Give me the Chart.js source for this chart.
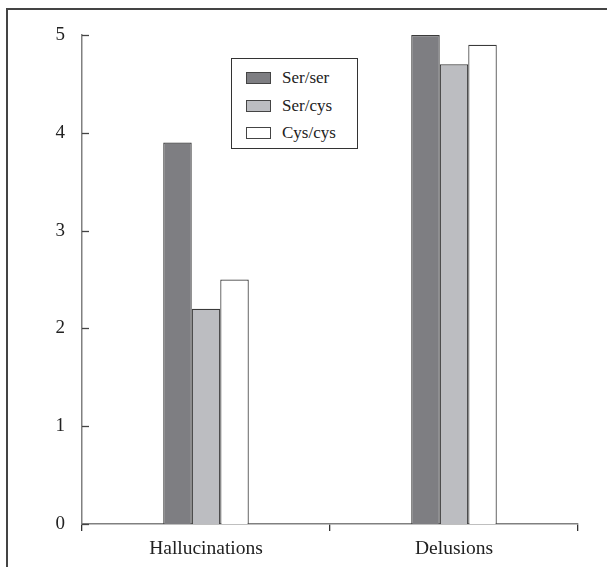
<!DOCTYPE html>
<html>
<head>
<meta charset="utf-8">
<script src="https://cdn.jsdelivr.net/npm/chart.js@4"></script>
<style>
	body { margin: 0; background: #fff; }
	#wrap { position: relative; width: 607px; height: 567px; overflow: hidden; }
	#frame-top { position: absolute; left: 6px; top: 8px; width: 610px; height: 0; border-top: 2px solid #444; }
	#frame-left { position: absolute; left: 6px; top: 8px; width: 0; height: 570px; border-left: 2px solid #444; }
	#legend {
		position: absolute; left: 231px; top: 58px; width: 127px; height: 91px;
		border: 1px solid #333; box-sizing: border-box; background: #fff;
		font-family: "Liberation Serif", "DejaVu Serif", serif; font-size: 17px; color: #222;
	}
	.row { position: absolute; left: 14px; height: 18px; line-height: 18px; white-space: nowrap; }
	.sw { display: inline-block; width: 23px; height: 10px; border: 1px solid #444; vertical-align: middle; margin-right: 11px; position: relative; top: -1px; }
</style>
</head>
<body>
<div id="wrap">
	<canvas id="chart" width="607" height="567"></canvas>
	<div id="frame-top"></div>
	<div id="frame-left"></div>
	<div id="legend"></div>
</div>
<script>
/* Symptom scores by genotype -- grouped bar chart */

const CATEGORIES = ["Hallucinations", "Delusions"];
const SERIES_NAMES = ["Ser/ser", "Ser/cys", "Cys/cys"];
const SER_SER = [3.9, 5.0];
const SER_CYS = [2.2, 4.7];
const CYS_CYS = [2.5, 4.9];
const Y_TICKS = [0, 1, 2, 3, 4, 5];

const COLORS = ["#7e7e82", "#bcbdc1", "#ffffff"];
const FONT = "'Liberation Serif', 'DejaVu Serif', serif";

// y ticks point into the plot area, so draw them by hand from the scale
const innerTicks = {
	id: "innerTicks",
	afterDraw(chart) {
		const y = chart.scales.y;
		const ctx = chart.ctx;
		ctx.save();
		ctx.strokeStyle = "#444";
		ctx.lineWidth = 1.3;
		for (const v of Y_TICKS) {
			const py = Math.round(y.getPixelForValue(v)) + 0.5;
			ctx.beginPath();
			ctx.moveTo(y.right, py);
			ctx.lineTo(y.right + 7, py);
			ctx.stroke();
		}
		ctx.restore();
	},
};

const seriesData = [SER_SER, SER_CYS, CYS_CYS];

new Chart(document.getElementById("chart"), {
	type: "bar",
	data: {
		labels: CATEGORIES,
		datasets: SERIES_NAMES.map((name, i) => ({
			label: name,
			data: seriesData[i],
			backgroundColor: COLORS[i],
			borderColor: "#3a3a3a",
			borderWidth: 1.2,
			borderSkipped: "bottom",
			categoryPercentage: 0.345,
			barPercentage: 1.0,
		})),
	},
	options: {
		responsive: false,
		animation: false,
		layout: { padding: { left: 0, top: 35, right: 29, bottom: 0 } },
		plugins: { legend: { display: false }, tooltip: { enabled: false } },
		scales: {
			x: {
				grid: { display: true, drawOnChartArea: false, offset: true, tickLength: 7, color: "#333", lineWidth: 1.3 },
				border: { color: "#808080", width: 1.5 },
				ticks: { color: "#222", font: { family: FONT, size: 19.5 }, padding: 6 },
				afterFit(scale) { scale.height = 43; },
			},
			y: {
				min: 0,
				max: 5,
				grid: { display: false, drawTicks: false },
				border: { color: "#808080", width: 1.5 },
				ticks: { stepSize: 1, color: "#222", font: { family: FONT, size: 19 }, padding: 17 },
				afterFit(scale) { scale.width = 82; },
			},
		},
	},
	plugins: [innerTicks],
});

// legend drawn as html from the same arrays
const legend = document.getElementById("legend");
SERIES_NAMES.forEach((name, i) => {
	const row = document.createElement("div");
	row.className = "row";
	row.style.top = (10 + i * 27.5) + "px";
	row.innerHTML = `<span class="sw" style="background:${COLORS[i]}"></span>${name}`;
	legend.appendChild(row);
});
</script>
</body>
</html>
